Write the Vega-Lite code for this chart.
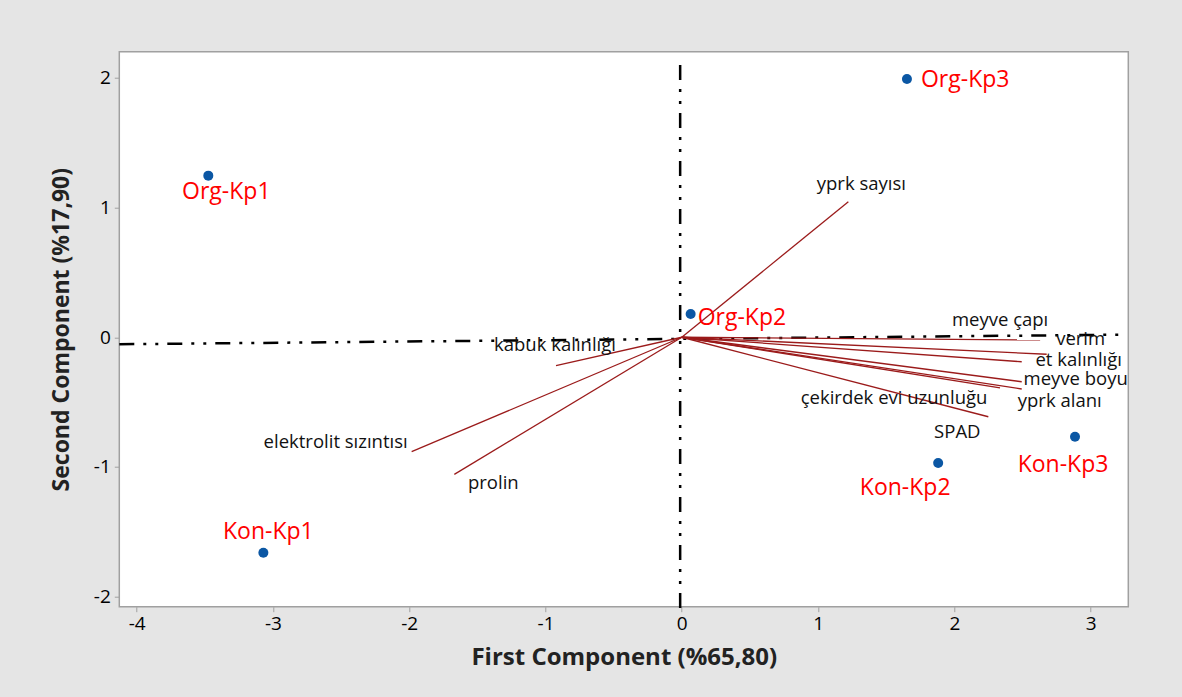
{
  "$schema": "https://vega.github.io/schema/vega-lite/v6.json",
  "width": 1009,
  "height": 555,
  "autosize": {"type": "none"},
  "padding": {"left": 119.3, "top": 51.7, "right": 53.7, "bottom": 90.3},
  "background": "#e5e5e5",
  "config": {
    "view": {"fill": "white", "stroke": "#a0a0a0", "strokeWidth": 1.5},
    "axis": {
      "grid": false,
      "domain": false,
      "tickColor": "#a0a0a0",
      "tickSize": 5,
      "labelFont": "Open Sans",
      "labelFontSize": 19,
      "labelColor": "#000000",
      "titleFont": "Open Sans",
      "titleFontWeight": "bold",
      "titleColor": "#222222"
    },
    "text": {"font": "Open Sans", "fontSize": 18.5, "color": "#111111", "align": "center", "baseline": "middle"}
  },
  "datasets": {
    "points": [
      {"name": "Org-Kp1", "pc1": -3.474, "pc2": 1.246},
      {"name": "Org-Kp2", "pc1": 0.065, "pc2": 0.179},
      {"name": "Org-Kp3", "pc1": 1.652, "pc2": 1.991},
      {"name": "Kon-Kp1", "pc1": -3.07, "pc2": -1.661},
      {"name": "Kon-Kp2", "pc1": 1.881, "pc2": -0.97},
      {"name": "Kon-Kp3", "pc1": 2.885, "pc2": -0.767}
    ],
    "vectors": [
      {"variable": "yprk sayısı", "pc1": 1.222, "pc2": 1.045},
      {"variable": "meyve çapı", "pc1": 2.629, "pc2": -0.021},
      {"variable": "verim", "pc1": 2.677, "pc2": -0.131},
      {"variable": "et kalınlığı", "pc1": 2.494, "pc2": -0.189},
      {"variable": "meyve boyu", "pc1": 2.494, "pc2": -0.343},
      {"variable": "yprk alanı", "pc1": 2.494, "pc2": -0.399},
      {"variable": "çekirdek evi uzunluğu", "pc1": 2.335, "pc2": -0.391},
      {"variable": "SPAD", "pc1": 2.249, "pc2": -0.613},
      {"variable": "kabuk kalınlığı", "pc1": -0.923, "pc2": -0.219},
      {"variable": "elektrolit sızıntısı", "pc1": -1.982, "pc2": -0.882},
      {"variable": "prolin", "pc1": -1.669, "pc2": -1.057}
    ],
    "reflines": [
      {"pc1": -4.127, "pc2": -0.054, "pc1b": 3.252, "pc2b": 0.02},
      {"pc1": -0.012, "pc2": 2.099, "pc1b": -0.012, "pc2b": -2.12}
    ]
  },
  "encoding": {
    "x": {
      "field": "pc1", "type": "quantitative",
      "scale": {"domain": [-4.127, 3.276], "nice": false, "zero": false},
      "axis": {"values": [-4, -3, -2, -1, 0, 1, 2, 3], "labelExpr": "replace(datum.label, '−', '-')", "title": "First Component (%65,80)", "titleFontSize": 24, "labelPadding": 3, "titlePadding": 12}
    },
    "y": {
      "field": "pc2", "type": "quantitative",
      "scale": {"domain": [-2.0775, 2.2016], "nice": false, "zero": false},
      "axis": {"values": [-2, -1, 0, 1, 2], "labelExpr": "replace(datum.label, '−', '-')", "title": "Second Component (%17,90)", "titleFontSize": 23, "labelPadding": 4, "titlePadding": 20}
    }
  },
  "layer": [
    {
      "data": {"name": "reflines"},
      "mark": {"type": "rule", "color": "#000000", "strokeWidth": 2.5, "strokeDash": [15, 9, 3, 9, 3, 9], "clip": false},
      "encoding": {"x2": {"field": "pc1b"}, "y2": {"field": "pc2b"}}
    },
    {
      "data": {"name": "vectors"},
      "mark": {"type": "rule", "color": "#9b1b1b", "strokeWidth": 1.3},
      "encoding": {
        "x": {"datum": 0, "type": "quantitative"},
        "y": {"datum": 0, "type": "quantitative"},
        "x2": {"field": "pc1"},
        "y2": {"field": "pc2"}
      }
    },
    {
      "data": {"name": "points"},
      "mark": {"type": "point", "filled": true, "shape": "circle", "size": 100, "color": "#0b57a4", "opacity": 1}
    },
    {"data": {"name": "points"}, "transform": [{"filter": "datum.name === 'Org-Kp1'"}], "mark": {"type": "text", "color": "#ff0000", "fontSize": 23, "dx": 18, "dy": 16}, "encoding": {"text": {"field": "name"}}},
    {"data": {"name": "points"}, "transform": [{"filter": "datum.name === 'Kon-Kp1'"}], "mark": {"type": "text", "color": "#ff0000", "fontSize": 23, "dx": 5, "dy": -21}, "encoding": {"text": {"field": "name"}}},
    {"data": {"name": "points"}, "transform": [{"filter": "datum.name === 'Org-Kp2'"}], "mark": {"type": "text", "color": "#ff0000", "fontSize": 23, "align": "left", "dx": 7, "dy": 4}, "encoding": {"text": {"field": "name"}}},
    {"data": {"name": "points"}, "transform": [{"filter": "datum.name === 'Org-Kp3'"}], "mark": {"type": "text", "color": "#ff0000", "fontSize": 23, "align": "left", "dx": 14, "dy": 1}, "encoding": {"text": {"field": "name"}}},
    {"data": {"name": "points"}, "transform": [{"filter": "datum.name === 'Kon-Kp2'"}], "mark": {"type": "text", "color": "#ff0000", "fontSize": 23, "dx": -33, "dy": 25}, "encoding": {"text": {"field": "name"}}},
    {"data": {"name": "points"}, "transform": [{"filter": "datum.name === 'Kon-Kp3'"}], "mark": {"type": "text", "color": "#ff0000", "fontSize": 23, "dx": -12, "dy": 28}, "encoding": {"text": {"field": "name"}}},
    {"data": {"name": "vectors"}, "transform": [{"filter": "datum.variable === 'yprk sayısı'"}], "mark": {"type": "text", "dx": 13, "dy": -18}, "encoding": {"text": {"field": "variable"}}},
    {"data": {"name": "vectors"}, "transform": [{"filter": "datum.variable === 'meyve çapı'"}], "mark": {"type": "text", "dx": -40, "dy": -20}, "encoding": {"text": {"field": "variable"}}},
    {"data": {"name": "vectors"}, "transform": [{"filter": "datum.variable === 'verim'"}], "mark": {"type": "text", "dx": 34, "dy": -15}, "encoding": {"text": {"field": "variable"}}},
    {"data": {"name": "vectors"}, "transform": [{"filter": "datum.variable === 'et kalınlığı'"}], "mark": {"type": "text", "dx": 57, "dy": -2}, "encoding": {"text": {"field": "variable"}}},
    {"data": {"name": "vectors"}, "transform": [{"filter": "datum.variable === 'meyve boyu'"}], "mark": {"type": "text", "dx": 54, "dy": -3}, "encoding": {"text": {"field": "variable"}}},
    {"data": {"name": "vectors"}, "transform": [{"filter": "datum.variable === 'yprk alanı'"}], "mark": {"type": "text", "dx": 38, "dy": 12}, "encoding": {"text": {"field": "variable"}}},
    {"data": {"name": "vectors"}, "transform": [{"filter": "datum.variable === 'çekirdek evi uzunluğu'"}], "mark": {"type": "text", "dx": -106, "dy": 10}, "encoding": {"text": {"field": "variable"}}},
    {"data": {"name": "vectors"}, "transform": [{"filter": "datum.variable === 'SPAD'"}], "mark": {"type": "text", "dx": -31, "dy": 15}, "encoding": {"text": {"field": "variable"}}},
    {"data": {"name": "vectors"}, "transform": [{"filter": "datum.variable === 'kabuk kalınlığı'"}], "mark": {"type": "text", "dx": -1, "dy": -21}, "encoding": {"text": {"field": "variable"}}},
    {"data": {"name": "vectors"}, "transform": [{"filter": "datum.variable === 'elektrolit sızıntısı'"}], "mark": {"type": "text", "dx": -76, "dy": -10}, "encoding": {"text": {"field": "variable"}}},
    {"data": {"name": "vectors"}, "transform": [{"filter": "datum.variable === 'prolin'"}], "mark": {"type": "text", "dx": 39, "dy": 9}, "encoding": {"text": {"field": "variable"}}}
  ]
}
